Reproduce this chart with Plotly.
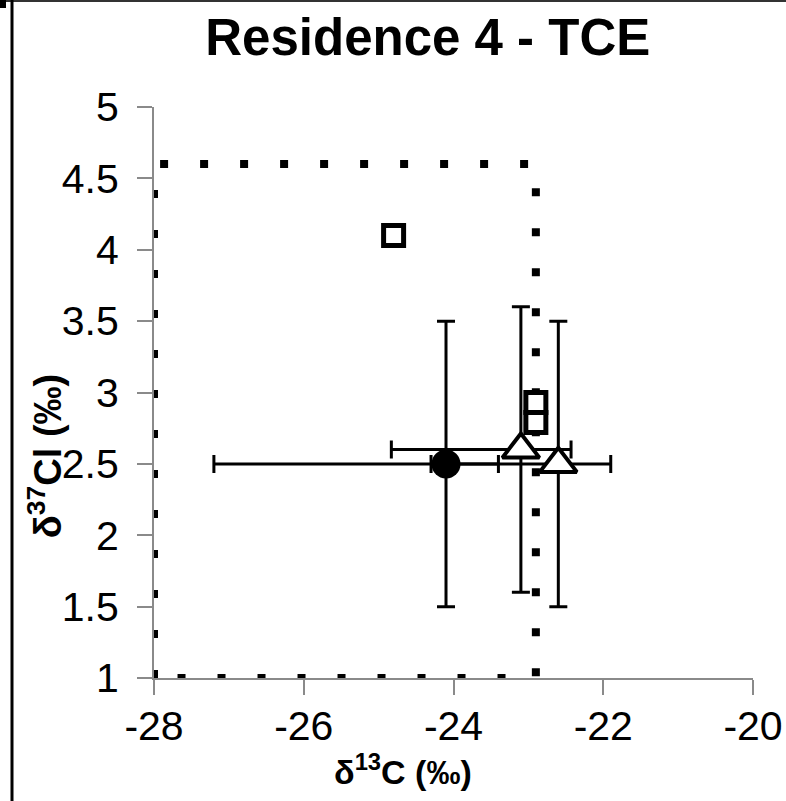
import plotly.graph_objects as go

# Axis setup
x_range = [-28, -20]
y_range = [1, 5]
x_ticks = [-28, -26, -24, -22, -20]
x_tick_text = ["-28", "-26", "-24", "-22", "-20"]
y_ticks = [1, 1.5, 2, 2.5, 3, 3.5, 4, 4.5, 5]
y_tick_text = ["1", "1.5", "2", "2.5", "3", "3.5", "4", "4.5", "5"]

# Dotted reference region
box_x = [-28, -28, -22.9, -22.9, -28]
box_y = [1, 4.6, 4.6, 1, 1]

# Filled circle with error bars
circle_x = [-24.1]
circle_y = [2.5]
circle_xerr_minus = [3.1]
circle_xerr_plus = [0.7]
circle_yerr = [1.0]

# Open triangles with error bars
tri_x = [-23.1, -22.6]
tri_y = [2.6, 2.5]
tri_xerr_minus = [1.73, 1.7]
tri_xerr_plus = [0.67, 0.7]
tri_yerr = [1.0, 1.0]

# Open squares
sq_x = [-24.8, -22.9, -22.9]
sq_y = [4.1, 2.93, 2.79]

FONT = "Liberation Sans, Arial, sans-serif"

fig = go.Figure()

fig.add_trace(go.Scatter(
    x=box_x, y=box_y, mode="lines",
    line=dict(color="black", width=8, dash="8px,32px"),
    hoverinfo="skip", showlegend=False,
))

fig.add_trace(go.Scatter(
    x=circle_x, y=circle_y, mode="markers",
    marker=dict(symbol="circle", size=29, color="black"),
    error_x=dict(type="data", symmetric=False, array=circle_xerr_plus,
                 arrayminus=circle_xerr_minus, color="black", thickness=3, width=9),
    error_y=dict(type="data", array=circle_yerr, color="black", thickness=3, width=9),
    showlegend=False,
))

fig.add_trace(go.Scatter(
    x=tri_x, y=tri_y, mode="markers",
    marker=dict(symbol="triangle-up", size=32, color="white",
                line=dict(color="black", width=4)),
    error_x=dict(type="data", symmetric=False, array=tri_xerr_plus,
                 arrayminus=tri_xerr_minus, color="black", thickness=3, width=9),
    error_y=dict(type="data", array=tri_yerr, color="black", thickness=3, width=9),
    showlegend=False,
))

fig.add_trace(go.Scatter(
    x=sq_x, y=sq_y, mode="markers",
    marker=dict(symbol="square", size=20, color="white",
                line=dict(color="black", width=5)),
    showlegend=False,
))

axis_common = dict(
    showgrid=False, zeroline=False, automargin=False,
    showline=True, linecolor="#8a8a8a", linewidth=2,
    ticks="outside", ticklen=15, tickwidth=2, tickcolor="#8a8a8a",
    tickfont=dict(family=FONT, size=41, color="black"),
    ticklabeloverflow="allow",
)

fig.update_xaxes(range=x_range, tickvals=x_ticks, ticktext=x_tick_text,
                 ticklabelstandoff=-4, **axis_common)
fig.update_yaxes(range=y_range, tickvals=y_ticks, ticktext=y_tick_text,
                 ticklabelstandoff=10, **axis_common)

fig.update_layout(
    width=786, height=801,
    margin=dict(l=154, r=33, t=107, b=123, autoexpand=False),
    paper_bgcolor="white", plot_bgcolor="white",
    title=dict(text="<b>Residence 4 - TCE</b>", x=0.457, xref="paper",
               xanchor="center", y=1 - 37 / 801, yref="container", yanchor="middle",
               font=dict(family=FONT, size=51, color="black")),
    annotations=[
        dict(text="<b>δ<sup>13</sup>C (‰)</b>", xref="paper", yref="paper",
             x=0.416, y=-0.161, xanchor="center", yanchor="middle", showarrow=False,
             font=dict(family=FONT, size=34, color="black")),
        dict(text="<b>δ<sup>37</sup>Cl (‰)</b>", xref="paper", yref="paper",
             x=-0.182, y=0.39, xanchor="center", yanchor="middle", textangle=-90,
             showarrow=False, font=dict(family=FONT, size=38, color="black")),
    ],
    shapes=[
        dict(type="line", xref="paper", yref="paper",
             x0=-0.3, x1=1.1, y0=(678 - 1) / 571, y1=(678 - 1) / 571,
             line=dict(color="#333333", width=2)),
        dict(type="line", xref="paper", yref="paper",
             x0=(12 - 154) / 599, x1=(12 - 154) / 599, y0=-0.3, y1=1.3,
             line=dict(color="black", width=3)),
        dict(type="rect", xref="paper", yref="paper",
             x0=(0 - 154) / 599, x1=(6 - 154) / 599,
             y0=(678 - 8) / 571, y1=(678 + 2) / 571,
             fillcolor="black", line=dict(width=0)),
    ],
)

fig.write_html("out.html")
